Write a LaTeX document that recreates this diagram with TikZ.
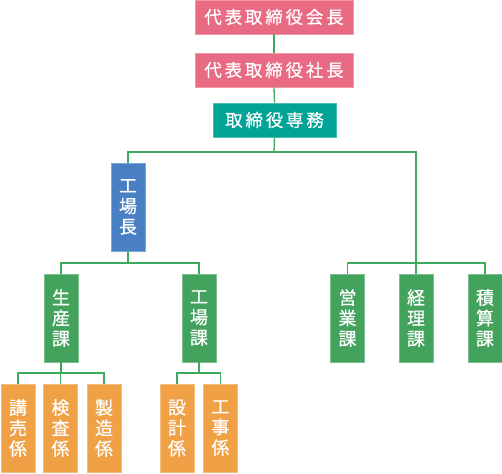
\documentclass[tikz,border=0pt]{standalone}
\usepackage{fontspec}
\newfontfamily\jpfont[FakeBold=0.6]{Noto Sans CJK JP}
\newfontfamily\jpwide[LetterSpace=16,FakeBold=0.6]{Noto Sans CJK JP}
\definecolor{cpink}{HTML}{E96A83}
\definecolor{cteal}{HTML}{00A396}
\definecolor{cblue}{HTML}{4880C3}
\definecolor{cgreen}{HTML}{43A35D}
\definecolor{corange}{HTML}{F1A145}
\definecolor{cline}{HTML}{3DAA5E}
\tikzset{
  hbox/.style={draw=#1!70!white, line width=0.8pt, fill=#1, text=white, inner sep=0pt, minimum height=34pt, font=\jpwide\fontsize{17.5}{20}\selectfont},
  vbox/.style={draw=#1!70!white, line width=0.8pt, fill=#1, text=white, inner sep=0pt, minimum width=34pt, minimum height=88pt, align=center, font=\jpfont\fontsize{18}{20.5}\selectfont},
  conn/.style={draw=cline, line width=1.3pt}
}
\begin{document}
\begin{tikzpicture}[x=1pt,y=-1pt]
\useasboundingbox (0,0) rectangle (502,473);
\node[hbox=cpink, minimum width=158pt] (kaicho) at (274,17) {代表取締役会長};
\node[hbox=cpink, minimum width=158pt] (shacho) at (274,70) {代表取締役社長};
\node[hbox=cteal, minimum width=123pt] (senmu) at (274.5,120) {取締役専務};
\node[vbox=cblue] (kojocho) at (128,207) {工\\場\\長};
\node[vbox=cgreen] (seisan) at (61,318) {生\\産\\課};
\node[vbox=cgreen] (kojoka) at (199,318) {工\\場\\課};
\node[vbox=cgreen] (eigyo) at (347.5,318) {営\\業\\課};
\node[vbox=cgreen] (keiri) at (416,318) {経\\理\\課};
\node[vbox=cgreen] (sekisan) at (485,318) {積\\算\\課};
\node[vbox=corange] (kobai) at (18,428) {講\\売\\係};
\node[vbox=corange] (kensa) at (60.5,428) {検\\査\\係};
\node[vbox=corange] (seizo) at (104,428) {製\\造\\係};
\node[vbox=corange] (sekkei) at (177,428) {設\\計\\係};
\node[vbox=corange] (koji) at (220.5,428) {工\\事\\係};
\coordinate (j1) at (274,152);
\coordinate (j2) at (128,263);
\coordinate (j3) at (61,373);
\coordinate (j4) at (199,373);
\coordinate (j5) at (347.5,263);
\path[conn] (kaicho.south) -- (shacho.north);
\path[conn] (shacho.south) -- (senmu.north);
\path[conn] (senmu.south) -- (j1);
\path[conn] (j1) -| (kojocho.north);
\path[conn] (j1) -| (keiri.north);
\path[conn] (kojocho.south) -- (j2);
\path[conn] (j2) -| (seisan.north);
\path[conn] (j2) -| (kojoka.north);
\path[conn] (eigyo.north) -- (j5) -| (sekisan.north);
\path[conn] (seisan.south) -- (j3);
\path[conn] (j3) -| (kobai.north);
\path[conn] (j3) -| (kensa.north);
\path[conn] (j3) -| (seizo.north);
\path[conn] (kojoka.south) -- (j4);
\path[conn] (j4) -| (sekkei.north);
\path[conn] (j4) -| (koji.north);
\end{tikzpicture}
\end{document}
